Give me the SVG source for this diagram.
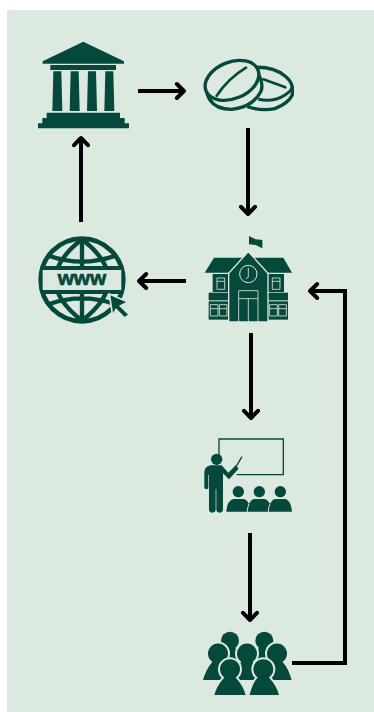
<svg xmlns="http://www.w3.org/2000/svg" width="374" height="712" viewBox="0 0 374 712">
<style>
.d{fill:#05483c}
.l{fill:#dce9df}
.ds{fill:none;stroke:#05483c}
.w{fill:none;stroke:#dce9df}
.c{fill:none;stroke:#000;stroke-width:4}
.p{fill:#05483c;stroke:#dce9df;stroke-width:6}
</style>
<defs>
<marker id="a" markerUnits="userSpaceOnUse" markerWidth="20" markerHeight="20" refX="10" refY="10" orient="auto" overflow="visible">
<path d="M2.800 3L10 10L2.800 17" fill="none" stroke="#000" stroke-width="4" stroke-linecap="round" stroke-linejoin="round"/>
</marker>
</defs>
<rect width="374" height="712" fill="#fff"/>
<rect x="7" y="10" width="367" height="702" class="l"/>
<g id="connectors">
<path class="c" marker-end="url(#a)" d="M138 91H184"/>
<path class="c" marker-end="url(#a)" d="M248 128V214"/>
<path class="c" marker-end="url(#a)" d="M186 281H139"/>
<path class="c" marker-end="url(#a)" d="M81 222V138"/>
<path class="c" marker-end="url(#a)" d="M251 333V418"/>
<path class="c" marker-end="url(#a)" d="M250 533V620"/>
<path class="c" marker-end="url(#a)" d="M292 663H345V291H310"/>
</g>
<g id="bank" class="d" transform="translate(20 30) scale(.3333)">
<path d="M68 94L190 35L312 94V101H68Z"/>
<rect x="91" y="105" width="197" height="15"/>
<path d="M100 124H124L127 243H97ZM152 124H176L179 243H149ZM204 124H228L231 243H201ZM256 124H280L283 243H253Z"/>
<path d="M80 248H300V264H314V280H327V295H54V280H67V264H80Z"/>
</g>
<g id="pills" transform="translate(190 50) scale(.3333)">
<path class="ds" stroke-width="10" d="M195 52Q250 50 285 78Q308 96 307 118V135Q295 160 255 176Q215 184 172 170"/>
<path class="ds" stroke-width="9" d="M205 148Q250 158 285 135Q306 122 307 108"/>
<path class="ds" stroke-width="8" stroke-linecap="round" d="M220 88L286 112"/>
<path class="l" d="M48 110L60 152Q85 180 125 178Q190 170 218 108L205 65L130 35L48 90Z"/>
<path class="ds" stroke-width="10" d="M49 115Q50 135 60 150Q78 178 125 178Q190 170 212 125Q222 105 205 72"/>
<ellipse class="ds" style="fill:#dce9df" stroke-width="10" cx="126" cy="91" rx="84" ry="55" transform="rotate(-22 126 91)"/>
<path class="ds" stroke-width="8" stroke-linecap="round" d="M80 137Q115 85 168 53"/>
</g>
<g id="school" transform="translate(190 230) scale(.3333)">
<path class="d" d="M177 18L197 28L217 30V55L197 45L177 43Z"/>
<path class="d" d="M44 128L72 83H280L306 128Z"/>
<rect class="d" x="68" y="132" width="214" height="54"/>
<rect class="d" x="56" y="188" width="238" height="23"/>
<rect class="d" x="56" y="214" width="238" height="55"/>
<path class="d" stroke="#dce9df" stroke-width="4" d="M175 65L234 130V276H116V130Z"/>
<circle class="w" stroke-width="3" cx="175" cy="132" r="26"/>
<path class="w" stroke-width="2.500" d="M175 113V142L167 146"/>
<path class="w" stroke-width="2.500" d="M146 276V182H204V276M146 206H204M175 206V276"/>
<path class="w" stroke-width="2.500" d="M81 144H104V178H81ZM81 154H104M247 144H270V178H247ZM247 154H270"/>
<path class="w" stroke-width="2.500" d="M61 224H84V258H61ZM61 236H84M88 224H111V258H88ZM88 236H111M239 224H262V258H239ZM239 236H262M266 224H289V258H266ZM266 236H289"/>
</g>
<g id="www" transform="translate(30 230) scale(.3333)">
<circle class="ds" stroke-width="14" cx="156" cy="150" r="124"/>
<path class="ds" stroke-width="13" d="M156 28V272M58 78Q156 112 254 78M58 222Q156 188 254 222M156 28Q76 90 76 150T156 272M156 28Q236 90 236 150T156 272"/>
<rect class="d" x="32" y="108" width="248" height="84"/>
<rect class="l" x="38" y="120" width="236" height="60"/>
<text x="156" y="165" text-anchor="middle" font-family="'Liberation Sans',Arial,sans-serif" font-weight="700" font-size="60" fill="#05483c" stroke="#05483c" stroke-width="2" textLength="146" lengthAdjust="spacingAndGlyphs">www</text>
<path class="d" stroke="#dce9df" stroke-width="5" d="M238 192L294 216L271 228L298 254L284 264L258 238L248 258Z"/>
</g>
<g id="teaching" transform="translate(195 430) scale(.3333)">
<path class="ds" stroke-width="4" d="M72 82V27H265V134H125"/>
<path class="ds" stroke-width="4" d="M141 80L122 112"/>
<path class="d" d="M48 106H80L100 128L122 106L131 116L102 148L84 130V238A10 10 0 0 1 64 238V178H62V238A10 10 0 0 1 42 238V135H40V172A6 6 0 0 1 28 172V125Q30 108 48 106Z"/>
<circle class="d" cx="65" cy="88" r="17"/>
<g class="d">
<circle cx="130" cy="185" r="17"/>
<circle cx="193" cy="185" r="17"/>
<circle cx="256" cy="185" r="17"/>
<path d="M94 245Q96 212 115 207H145Q156 209 162 222Q168 209 178 207H208Q218 209 225 222Q231 209 241 207H271Q288 212 291 245Z"/>
</g>
<path class="w" stroke-width="3" d="M162 222Q157 232 157 245M225 222Q220 232 220 245"/>
</g>
<g id="people" transform="translate(195 620) scale(.3333)">
<g class="d">
<circle cx="105" cy="62" r="27"/>
<path d="M76 130Q80 95 90 82H120Q130 95 134 130Z"/>
<circle cx="208" cy="62" r="27"/>
<path d="M179 130Q183 95 193 82H223Q233 95 237 130Z"/>
</g>
<g class="p">
<path d="M20 183C26 160 36 140 48 126A33 33 0 1 1 90 126C102 140 110 160 116 183Z"/>
<path d="M198 183C206 160 214 140 225 126A33 33 0 1 1 267 126C280 140 288 160 294 183Z"/>
<path d="M110 183C116 160 124 140 135 126A33 33 0 1 1 177 126C188 140 196 160 202 183Z"/>
<path d="M54 228C60 205 70 188 84 173A33 33 0 1 1 126 173C140 188 150 205 156 228Z"/>
<path d="M160 228C166 205 170 188 184 173A33 33 0 1 1 226 173C240 188 250 205 256 228Z"/>
</g>
</g>
</svg>
